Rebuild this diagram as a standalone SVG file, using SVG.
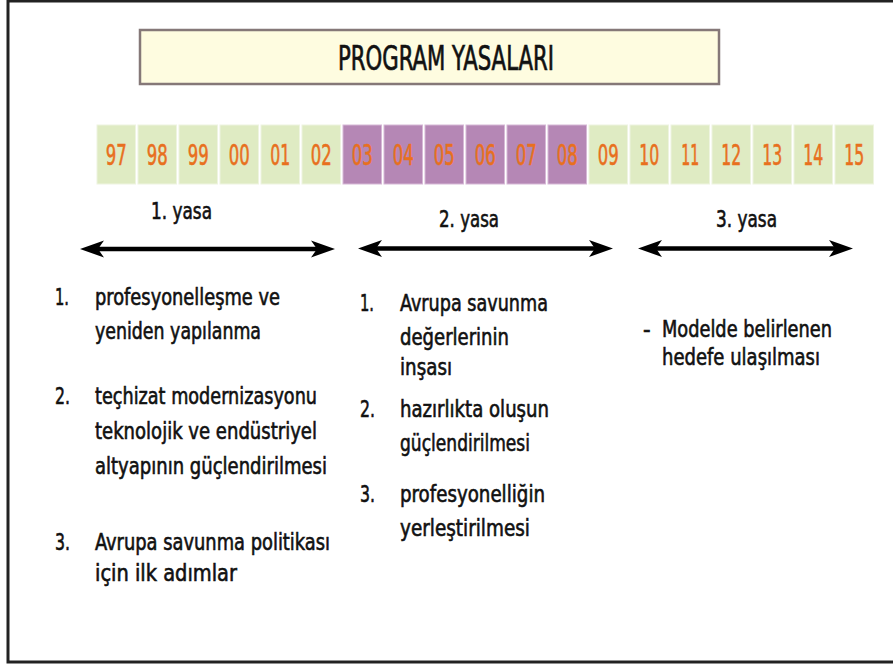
<svg xmlns="http://www.w3.org/2000/svg" width="893" height="667" viewBox="0 0 893 667">
<style>
text { font-family: "DejaVu Sans Condensed", "DejaVu Sans", "Liberation Sans", sans-serif; font-stretch: condensed; fill: #111; stroke: #111; stroke-width: 0.6px; }
.body { font-size: 23.5px; }
.title { font-size: 33px; stroke-width: 0.7px; }
.yr { font-size: 28px; fill: #E8701E; stroke: #E8701E; text-anchor: middle; }
.g { fill: #DFEBC3; stroke: #EEF4E0; stroke-width: 1; }
.p { fill: #B587B5; stroke: #D6B8D6; stroke-width: 1; }
.arr { stroke: #000; stroke-width: 4.5; fill: none; marker-start: url(#head); marker-end: url(#head); }
</style>
<defs>
<marker id="head" viewBox="0 -9 24 18" markerUnits="userSpaceOnUse" markerWidth="24" markerHeight="18" refX="14" refY="0" orient="auto-start-reverse">
<path d="M24,0 L0,-8.5 L6,0 L0,8.5 Z" fill="#000"/>
</marker>
</defs>
<rect width="893" height="667" fill="#fff"/>
<rect x="8" y="1" width="900" height="661" fill="none" stroke="#222" stroke-width="3"/>

<g id="title">
<rect x="140" y="30" width="579" height="54" fill="#FEFCE0" stroke="#857878" stroke-width="2.5"/>
<text class="title" x="338" y="70" textLength="216" lengthAdjust="spacingAndGlyphs">PROGRAM YASALARI</text>
</g>

<g id="years">
<g id="y97"><rect class="g" x="97" y="125" width="38.5" height="59"/><text class="yr" x="116.2" y="165" textLength="21" lengthAdjust="spacingAndGlyphs">97</text></g>
<g id="y98"><rect class="g" x="138" y="125" width="38.5" height="59"/><text class="yr" x="157.2" y="165" textLength="21" lengthAdjust="spacingAndGlyphs">98</text></g>
<g id="y99"><rect class="g" x="179" y="125" width="38.5" height="59"/><text class="yr" x="198.2" y="165" textLength="21" lengthAdjust="spacingAndGlyphs">99</text></g>
<g id="y00"><rect class="g" x="220" y="125" width="38.5" height="59"/><text class="yr" x="239.2" y="165" textLength="21" lengthAdjust="spacingAndGlyphs">00</text></g>
<g id="y01"><rect class="g" x="261" y="125" width="38.5" height="59"/><text class="yr" x="280.2" y="165" textLength="20" lengthAdjust="spacingAndGlyphs">01</text></g>
<g id="y02"><rect class="g" x="302" y="125" width="38.5" height="59"/><text class="yr" x="321.2" y="165" textLength="21" lengthAdjust="spacingAndGlyphs">02</text></g>
<g id="y03"><rect class="p" x="343" y="125" width="38.5" height="59"/><text class="yr" x="362.2" y="165" textLength="21" lengthAdjust="spacingAndGlyphs">03</text></g>
<g id="y04"><rect class="p" x="384" y="125" width="38.5" height="59"/><text class="yr" x="403.2" y="165" textLength="21" lengthAdjust="spacingAndGlyphs">04</text></g>
<g id="y05"><rect class="p" x="425" y="125" width="38.5" height="59"/><text class="yr" x="444.2" y="165" textLength="21" lengthAdjust="spacingAndGlyphs">05</text></g>
<g id="y06"><rect class="p" x="466" y="125" width="38.5" height="59"/><text class="yr" x="485.2" y="165" textLength="21" lengthAdjust="spacingAndGlyphs">06</text></g>
<g id="y07"><rect class="p" x="507" y="125" width="38.5" height="59"/><text class="yr" x="526.2" y="165" textLength="21" lengthAdjust="spacingAndGlyphs">07</text></g>
<g id="y08"><rect class="p" x="548" y="125" width="38.5" height="59"/><text class="yr" x="567.2" y="165" textLength="21" lengthAdjust="spacingAndGlyphs">08</text></g>
<g id="y09"><rect class="g" x="589" y="125" width="38.5" height="59"/><text class="yr" x="608.2" y="165" textLength="21" lengthAdjust="spacingAndGlyphs">09</text></g>
<g id="y10"><rect class="g" x="630" y="125" width="38.5" height="59"/><text class="yr" x="649.2" y="165" textLength="20" lengthAdjust="spacingAndGlyphs">10</text></g>
<g id="y11"><rect class="g" x="671" y="125" width="38.5" height="59"/><text class="yr" x="690.2" y="165" textLength="18" lengthAdjust="spacingAndGlyphs">11</text></g>
<g id="y12"><rect class="g" x="712" y="125" width="38.5" height="59"/><text class="yr" x="731.2" y="165" textLength="20" lengthAdjust="spacingAndGlyphs">12</text></g>
<g id="y13"><rect class="g" x="753" y="125" width="38.5" height="59"/><text class="yr" x="772.2" y="165" textLength="20" lengthAdjust="spacingAndGlyphs">13</text></g>
<g id="y14"><rect class="g" x="794" y="125" width="38.5" height="59"/><text class="yr" x="813.2" y="165" textLength="20" lengthAdjust="spacingAndGlyphs">14</text></g>
<g id="y15"><rect class="g" x="835" y="125" width="38.5" height="59"/><text class="yr" x="854.2" y="165" textLength="20" lengthAdjust="spacingAndGlyphs">15</text></g>
</g>

<g id="yasa1"><text class="body" x="151" y="219" textLength="61" lengthAdjust="spacingAndGlyphs">1. yasa</text></g>
<g id="yasa2"><text class="body" x="439" y="227" textLength="60" lengthAdjust="spacingAndGlyphs">2. yasa</text></g>
<g id="yasa3"><text class="body" x="716" y="227" textLength="61" lengthAdjust="spacingAndGlyphs">3. yasa</text></g>

<g id="connectors">
<line class="arr" x1="90" y1="249" x2="325" y2="249"/>
<line class="arr" x1="368" y1="248.5" x2="603" y2="248.5"/>
<line class="arr" x1="648" y1="248.5" x2="843" y2="248.5"/>
</g>

<g id="list1">
<text class="body" x="55" y="305" textLength="14" lengthAdjust="spacingAndGlyphs">1.</text>
<text class="body" x="95" y="305" textLength="185" lengthAdjust="spacingAndGlyphs">profesyonelleşme ve</text>
<text class="body" x="95" y="339" textLength="166" lengthAdjust="spacingAndGlyphs">yeniden yapılanma</text>
<text class="body" x="55" y="404" textLength="15" lengthAdjust="spacingAndGlyphs">2.</text>
<text class="body" x="95" y="404" textLength="222" lengthAdjust="spacingAndGlyphs">teçhizat modernizasyonu</text>
<text class="body" x="95" y="439" textLength="222" lengthAdjust="spacingAndGlyphs">teknolojik ve endüstriyel</text>
<text class="body" x="95" y="474" textLength="232" lengthAdjust="spacingAndGlyphs">altyapının güçlendirilmesi</text>
<text class="body" x="55" y="550" textLength="15" lengthAdjust="spacingAndGlyphs">3.</text>
<text class="body" x="95" y="550" textLength="235" lengthAdjust="spacingAndGlyphs">Avrupa savunma politikası</text>
<text class="body" x="95" y="581" textLength="142" lengthAdjust="spacingAndGlyphs">için ilk adımlar</text>
</g>

<g id="list2">
<text class="body" x="360" y="311" textLength="14" lengthAdjust="spacingAndGlyphs">1.</text>
<text class="body" x="400" y="311" textLength="148" lengthAdjust="spacingAndGlyphs">Avrupa savunma</text>
<text class="body" x="400" y="345" textLength="109" lengthAdjust="spacingAndGlyphs">değerlerinin</text>
<text class="body" x="400" y="375" textLength="52" lengthAdjust="spacingAndGlyphs">inşası</text>
<text class="body" x="360" y="417" textLength="15" lengthAdjust="spacingAndGlyphs">2.</text>
<text class="body" x="400" y="417" textLength="149" lengthAdjust="spacingAndGlyphs">hazırlıkta oluşun</text>
<text class="body" x="400" y="451" textLength="130" lengthAdjust="spacingAndGlyphs">güçlendirilmesi</text>
<text class="body" x="360" y="502" textLength="15" lengthAdjust="spacingAndGlyphs">3.</text>
<text class="body" x="400" y="502" textLength="145" lengthAdjust="spacingAndGlyphs">profesyonelliğin</text>
<text class="body" x="400" y="536" textLength="130" lengthAdjust="spacingAndGlyphs">yerleştirilmesi</text>
</g>

<g id="list3">
<text class="body" x="643" y="337">-</text>
<text class="body" x="662" y="337" textLength="170" lengthAdjust="spacingAndGlyphs">Modelde belirlenen</text>
<text class="body" x="662" y="365" textLength="158" lengthAdjust="spacingAndGlyphs">hedefe ulaşılması</text>
</g>
</svg>
